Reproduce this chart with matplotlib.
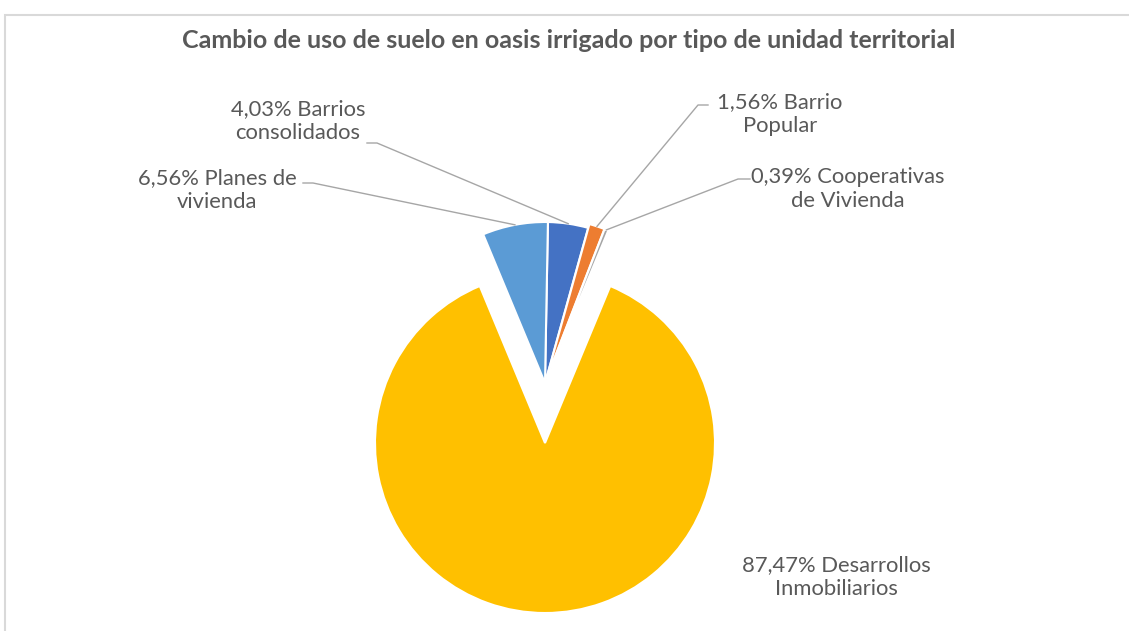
import numpy as np
import matplotlib.pyplot as plt
from matplotlib.patches import Rectangle

# Data
categories = ['Barrios\nconsolidados', 'Barrio\nPopular', 'Cooperativas\nde Vivienda',
              'Desarrollos\nInmobiliarios', 'Planes de\nvivienda']
label_texts = ['4,03% Barrios\nconsolidados', '1,56% Barrio\nPopular',
               '0,39% Cooperativas\nde Vivienda', '87,47% Desarrollos\nInmobiliarios',
               '6,56% Planes de\nvivienda']
shares = [4.03, 1.56, 0.39, 87.47, 6.56]
colors = ['#4472C4', '#ED7D31', '#A5A5A5', '#FFC000', '#5B9BD5']

W, H = 1129, 631
plt.rcParams['font.family'] = ['Lato', 'DejaVu Sans']
text_color = '#595959'

fig = plt.figure(figsize=(W / 100, H / 100), dpi=100)
ax = fig.add_axes([0, 0, 1, 1])

# pie geometry (pixel coords, y up)
cx, cy = 545, H - 383
radius = 161
total = sum(shares)
# rotate so the big slice is centred on the bottom
big_deg = shares[3] / total * 360
before_deg = sum(shares[:3]) / total * 360
start_cw = 180 - big_deg / 2 - before_deg
wedges, _ = ax.pie(shares, colors=colors, startangle=90 - start_cw, counterclock=False,
                   center=(cx, cy), radius=radius,
                   wedgeprops=dict(edgecolor='white', linewidth=1.5))

# explode: big slice pulled down, thin slices nudged out
offsets = [0, 4, 4, 60, 0]
for w, d in zip(wedges, offsets):
    tm = np.deg2rad((w.theta1 + w.theta2) / 2)
    w.set_center((cx + d * np.cos(tm), cy + d * np.sin(tm)))
wedges[3].set_radius(170)

ax.set_xlim(0, W)
ax.set_ylim(0, H)
ax.set_aspect('auto')
ax.axis('off')

# chart border
ax.add_patch(Rectangle((5, -20), W + 20, H - 15 + 20, fill=False,
                       edgecolor='#D9D9D9', linewidth=1.5))

ax.text(569, H - 40, 'Cambio de uso de suelo en oasis irrigado por tipo de unidad territorial',
        ha='center', va='center', fontsize=18, fontweight='bold', color=text_color)

# label positions (centre of the text block) and leader-line elbows
label_pos = [(298, 121), (780, 114), (848, 189), (836, 577), (217, 190)]
elbows = [((367, 143), (377, 143)), ((708, 105), (698, 105)),
          ((750, 179), (738, 179)), None, ((303, 183), (313, 183))]

for w, txt, pos, el in zip(wedges, label_texts, label_pos, elbows):
    ax.text(pos[0], H - pos[1], txt, ha='center', va='center', fontsize=15.8,
            color=text_color, linespacing=1.28)
    if el is None:
        continue
    tm = np.deg2rad((w.theta1 + w.theta2) / 2)
    wx, wy = w.center
    px, py = wx + w.r * np.cos(tm), wy + w.r * np.sin(tm)
    (x0, y0), (x1, y1) = el
    ax.plot([x0, x1, px], [H - y0, H - y1, py], color='#A6A6A6', linewidth=1)

fig.savefig('out.png', dpi=100, facecolor='white')
